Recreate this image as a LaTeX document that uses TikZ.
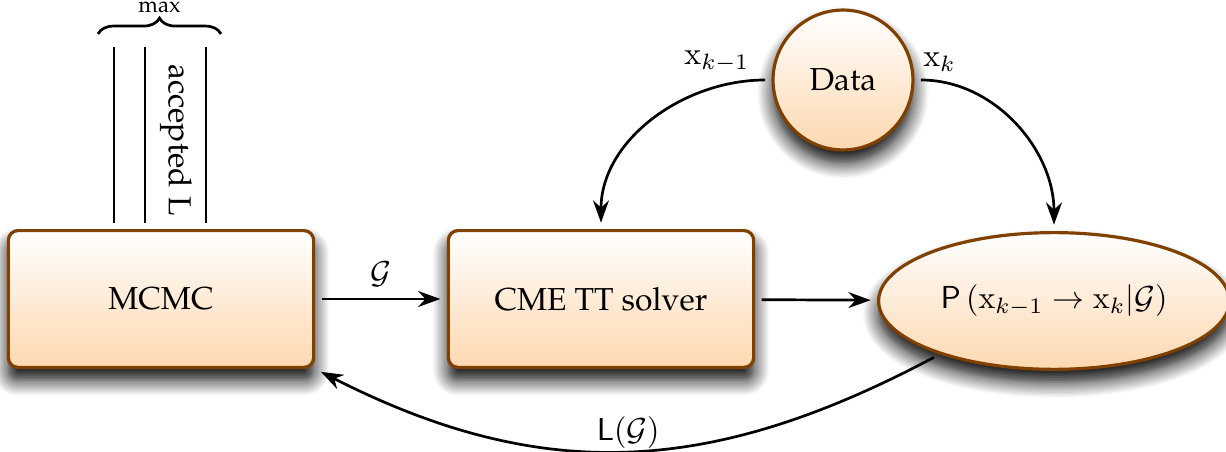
\documentclass[tikz,border=0pt]{standalone}
\usepackage[T1]{fontenc}
\renewcommand{\rmdefault}{ppl}
\usetikzlibrary{arrows.meta,shapes.geometric,shadows.blur,decorations.pathreplacing}
\definecolor{boxbrown}{RGB}{128,64,0}
\definecolor{boxfill}{RGB}{253,216,176}
\newcommand{\xs}[1]{\mathrm{x}_{#1}}

\begin{document}
\begin{tikzpicture}[x=0.3145pt,y=-0.3145pt,
  line width=0.85pt,>={Stealth[length=7pt,width=5pt]},
  stage/.style={draw=boxbrown,line width=1pt,top color=white,bottom color=boxfill,
    blur shadow={shadow xshift=0pt,shadow yshift=-4pt,shadow blur radius=5pt,
      shadow blur steps=10,shadow opacity=100}},
  block/.style={stage,rounded corners=3pt,minimum width=96pt,minimum height=43pt},
  flow/.style={->,shorten <=2pt,shorten >=2pt}]
  \useasboundingbox (0,0) rectangle (1226,452);

  \node[block] (mcmc) at (161,299) {MCMC};
  \node[block] (solver) at (601,299) {CME TT solver};
  \node[stage,ellipse,minimum width=104pt,minimum height=43pt] (prob) at (1054,301)
    {$\mathsf{P}\left(\xs{k-1}\to\xs{k}|\mathcal{G}\right)$};
  \node[stage,circle,minimum size=44pt] (data) at (843,80) {Data};

  \draw[flow] (mcmc) -- node[above] {$\mathcal{G}$} (solver);
  \draw[flow] (solver) -- (prob);
  \draw[flow] (data.west) to[out=180,in=90] node[pos=0.05,above left=-1pt] {$\xs{k-1}$} (solver.north);
  \draw[flow] (data.east) to[out=0,in=90] node[pos=0,above right=-1pt] {$\xs{k}$} (prob.north);
  \draw[flow] (prob.205) to[out=-152,in=-27,looseness=1.05] node[above=-3pt] {$\mathsf{L}(\mathcal{G})$} (mcmc.south east);

  % accepted samples
  \foreach \x in {114,145,206}
    \draw[line width=0.6pt] (\x,47) -- (\x,223);
  \node[rotate=-90] (acc) at (176,140) {accepted L};
  \draw[decorate,decoration={brace,amplitude=5pt}] (98,34) -- (221,34)
    node[midway,above=3pt,font=\scriptsize] (max) {max};
\end{tikzpicture}
\end{document}
